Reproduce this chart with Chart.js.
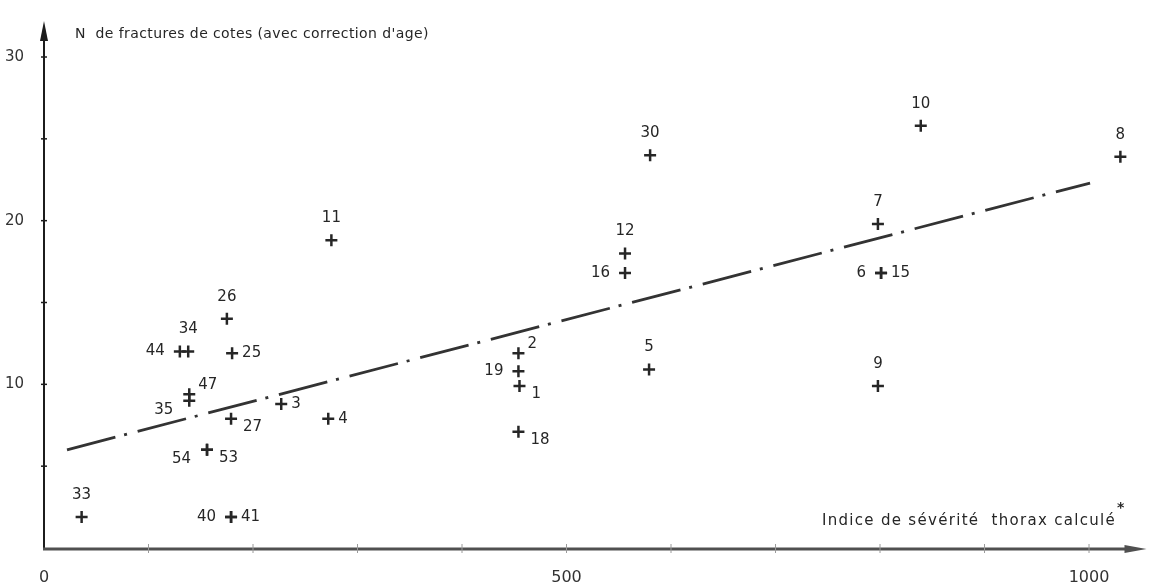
<!DOCTYPE html>
<html>
<head>
<meta charset="utf-8">
<script src="https://cdn.jsdelivr.net/npm/chart.js@4.4.1/dist/chart.umd.min.js"></script>
<style>
  html, body { margin: 0; padding: 0; background: #fff; }
  #graphique { display: block; }
</style>
</head>
<body>
<canvas id="graphique" width="1155" height="586"></canvas>
<script>
// numéros des cas (étiquettes à côté des croix)
const numeros = ['33', '40', '41', '54', '53', '47', '35', '44', '34', '26', '25', '27', '3', '4', '11',
                 '2', '19', '1', '18', '12', '16', '30', '5', '7', '6', '15', '9', '10', '8'];
// indice de sévérité thorax calculé
const severite = [36, 179, 179, 156, 156, 139, 139, 130, 138, 175, 180, 179, 227, 272, 275,
                  454, 454, 455, 454, 556, 556, 580, 579, 798, 801, 801, 798, 839, 1030];
// nb de fractures de côtes (avec correction d'âge)
const fractures = [1.9, 1.9, 1.9, 6.0, 6.0, 9.4, 9.0, 12.0, 12.0, 14.0, 11.9, 7.9, 8.8, 7.9, 18.8,
                   11.9, 10.8, 9.9, 7.1, 18.0, 16.8, 24.0, 10.9, 19.8, 16.8, 16.8, 9.9, 25.8, 23.9];
// côté de l'étiquette par rapport à la croix
const cote = ['n', 'w', 'e', 'sw', 'se', 'ne', 'sw', 'w', 'n', 'n', 'e', 'se', 'e', 'e', 'n',
              'ne', 'w', 'se', 'se', 'n', 'w', 'n', 'n', 'n', 'w', 'e', 'n', 'n', 'n'];

// droite de régression (extrémités)
const droiteX = [22, 1001];
const droiteY = [6.0, 22.3];

const ticksX = [0, 500, 1000];
const ticksY = [10, 20, 30];

const titreY = "N  de fractures de cotes (avec correction d'age)";
const titreX = 'Indice de sévérité  thorax calculé';

const encre = '#262626';
const police = '"DejaVu Sans", "Liberation Sans", sans-serif';

const points = severite.map((x, i) => ({ x: x, y: fractures[i] }));
const droite = droiteX.map((x, i) => ({ x: x, y: droiteY[i] }));

// décalages des étiquettes selon le côté
const decalage = {
  n:  { dx: 0,   dy: -22, align: 'center' },
  e:  { dx: 10,  dy: 0,   align: 'left' },
  w:  { dx: -15, dy: 0,   align: 'right' },
  ne: { dx: 9,   dy: -9,  align: 'left' },
  se: { dx: 12,  dy: 8,   align: 'left' },
  sw: { dx: -16, dy: 9,   align: 'right' }
};

const habillage = {
  id: 'habillage',
  afterDraw(chart) {
    const ctx = chart.ctx;
    const xs = chart.scales.x;
    const ys = chart.scales.y;
    const x0 = xs.getPixelForValue(0);
    const y0 = ys.getPixelForValue(0);
    const haut = chart.chartArea.top;
    const droiteBord = chart.chartArea.right;

    ctx.save();

    // axe vertical avec flèche
    ctx.strokeStyle = '#1c1c1c';
    ctx.fillStyle = '#1c1c1c';
    ctx.lineWidth = 2;
    ctx.beginPath();
    ctx.moveTo(x0, y0);
    ctx.lineTo(x0, haut + 14);
    ctx.stroke();
    ctx.beginPath();
    ctx.moveTo(x0, haut);
    ctx.lineTo(x0 - 4, haut + 20);
    ctx.lineTo(x0 + 4, haut + 20);
    ctx.closePath();
    ctx.fill();

    // graduations verticales tous les 5
    ctx.lineWidth = 1.5;
    for (let v = 5; v <= 30; v += 5) {
      const py = ys.getPixelForValue(v);
      ctx.beginPath();
      ctx.moveTo(x0 - 3, py);
      ctx.lineTo(x0 + 3, py);
      ctx.stroke();
    }

    // axe horizontal avec flèche
    ctx.strokeStyle = '#505050';
    ctx.fillStyle = '#505050';
    ctx.lineWidth = 3;
    ctx.beginPath();
    ctx.moveTo(x0 - 1, y0 + 1);
    ctx.lineTo(droiteBord - 12, y0 + 1);
    ctx.stroke();
    ctx.beginPath();
    ctx.moveTo(droiteBord, y0 + 1);
    ctx.lineTo(droiteBord - 22, y0 - 3);
    ctx.lineTo(droiteBord - 22, y0 + 5);
    ctx.closePath();
    ctx.fill();

    // graduations horizontales tous les 100
    ctx.strokeStyle = '#9a9a9a';
    ctx.lineWidth = 1;
    for (let v = 100; v <= 1000; v += 100) {
      const px = xs.getPixelForValue(v);
      ctx.beginPath();
      ctx.moveTo(px, y0 - 4);
      ctx.lineTo(px, y0 + 5);
      ctx.stroke();
    }

    // étiquettes des cas
    ctx.fillStyle = encre;
    ctx.font = '15px ' + police;
    ctx.textBaseline = 'middle';
    const meta = chart.getDatasetMeta(0);
    meta.data.forEach((el, i) => {
      const d = decalage[cote[i]];
      ctx.textAlign = d.align;
      ctx.fillText(numeros[i], el.x + d.dx, el.y + d.dy);
    });

    // titre de l'axe vertical
    ctx.textAlign = 'left';
    ctx.font = '14px ' + police;
    ctx.letterSpacing = '0.4px';
    ctx.fillText(titreY, x0 + 31, 34);

    // titre de l'axe horizontal
    ctx.textAlign = 'right';
    ctx.font = '15px ' + police;
    ctx.letterSpacing = '1.3px';
    ctx.fillText(titreX, 1116, 521);
    ctx.letterSpacing = '0px';
    ctx.font = 'bold 14px ' + police;
    ctx.textAlign = 'left';
    ctx.fillText('*', 1117, 508);

    ctx.restore();
  }
};

new Chart(document.getElementById('graphique'), {
  type: 'scatter',
  data: {
    datasets: [
      {
        label: 'cas',
        data: points,
        pointStyle: 'cross',
        pointRadius: 6,
        pointBorderWidth: 2.5,
        borderColor: encre,
        backgroundColor: encre,
        order: 1
      },
      {
        label: 'régression',
        type: 'line',
        data: droite,
        borderColor: '#333',
        borderWidth: 2.8,
        borderDash: [50, 9, 3, 11],
        pointRadius: 0,
        fill: false,
        tension: 0,
        order: 2
      }
    ]
  },
  options: {
    responsive: false,
    animation: false,
    layout: { padding: { top: 8, right: 3, left: 0, bottom: 0 } },
    plugins: {
      legend: { display: false },
      tooltip: { enabled: false }
    },
    scales: {
      x: {
        type: 'linear',
        min: 0,
        max: 1055,
        grid: { display: false },
        border: { display: false },
        afterFit(s) { s.height = 38; },
        afterBuildTicks(s) { s.ticks = ticksX.map(v => ({ value: v })); },
        ticks: {
          color: '#333',
          font: { family: police, size: 16 },
          padding: 12,
          maxRotation: 0,
          autoSkip: false,
          callback: v => String(v)
        }
      },
      y: {
        type: 'linear',
        min: 0,
        max: 32.2,
        grid: { display: false },
        border: { display: false },
        afterFit(s) { s.width = 44; },
        afterBuildTicks(s) { s.ticks = ticksY.map(v => ({ value: v })); },
        ticks: {
          color: '#333',
          font: { family: police, size: 15 },
          padding: 12,
          callback: v => String(v)
        }
      }
    }
  },
  plugins: [habillage]
});
</script>
</body>
</html>
